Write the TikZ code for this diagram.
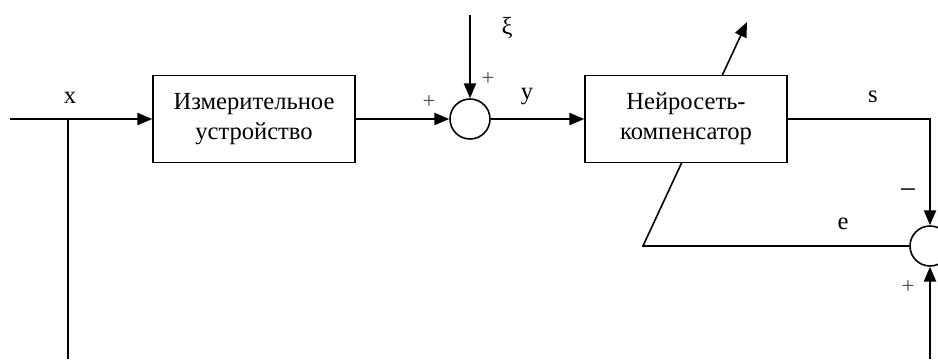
\documentclass[tikz,border=0pt]{standalone}
\usepackage{fontspec}
\setmainfont{Liberation Serif}
\usetikzlibrary{arrows.meta}
\tikzset{>={Triangle[length=8.5pt,width=7pt]},
	blok/.style={draw,line width=.9pt,fill=white,minimum width=4.04cm,minimum height=1.74cm,align=center,font=\fontsize{14}{17}\selectfont},
	summa/.style={draw,line width=.9pt,fill=white,circle,minimum size=.8cm,inner sep=0pt},
	znak/.style={font=\fontsize{13}{14}\selectfont,text=black!70},
	metka/.style={font=\fontsize{14}{17}\selectfont}}
\begin{document}
\begin{tikzpicture}[x=.02cm,y=-.02cm,line width=.9pt]
			\useasboundingbox (0,0) rectangle (938,359);
			\coordinate (in) at (10,119); \coordinate (branch) at (68,119); \coordinate (xbot) at (68,359);
			\coordinate (xitop) at (470,15); \coordinate (scorner) at (930,119);
			\coordinate (ecorner) at (643,246); \coordinate (tip) at (747,22); \coordinate (rbot) at (930,359);
			
			\node[summa] (sum2) at (930,246) {};
			\draw[->] (sum2.west) -- (ecorner) -- (tip);
			
			\node[blok] (izm) at (254,119) {Измерительное\\устройство};
			\node[summa] (sum1) at (470,119) {};
			\node[blok] (neiro) at (686,119) {Нейросеть-\\компенсатор};
			
			\draw[->] (in) -- (izm.west); \draw (branch) -- (xbot);
			\draw[->] (izm.east) -- (sum1.west);
			\draw[->] (xitop) -- (sum1.north);
			\draw[->] (sum1.east) -- (neiro.west);
			\draw[->] (neiro.east) -- (scorner) -- (sum2.north);
			\draw[->] (rbot) -- (sum2.south);
			
			\node[metka] (lx) at (70,98) {x};
			\node[metka] (lxi) at (507,28) {ξ};
			\node[metka] (ly) at (527,97) {y};
			\node[metka] (ls) at (873,97) {s};
			\node[metka] (le) at (843,224) {e};
			\node[metka,font=\fontsize{17}{17}\selectfont] (lminus) at (908,194) {−};
			\node[znak] (p1) at (429,102) {+}; \node[znak] (p2) at (488,79) {+};
			\node[znak] (p3) at (908,287) {+};
\end{tikzpicture}
\end{document}
